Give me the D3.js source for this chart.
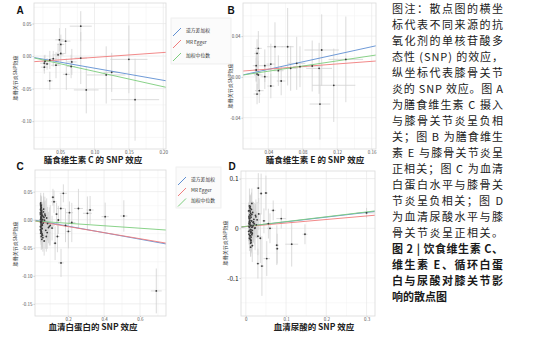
<!DOCTYPE html>
<html lang="zh">
<head>
<meta charset="utf-8">
<script src="https://cdn.jsdelivr.net/npm/d3@7"></script>
<style>
  body { margin: 0; background: #fff; }
  svg { display: block; font-family: "Noto Sans CJK SC", "Noto Sans", sans-serif; }
  .domain { display: none; }
  .tick line { stroke: #c8c8c8; }
  .tick text { fill: #555; }
</style>
</head>
<body>
<script>
// ---- data ----
const methods = ["逆方差加权", "MR Egger", "加权中位数"];
const methodColors = ["#5f8fd2", "#f07c7c", "#7ccd7c"];

// panel A: dietary vitamin C
const aX  = [0.080,0.049,0.051,0.058,0.047,0.051,0.080,0.067,0.066,0.059,0.044,0.035,0.028,0.027,0.031,0.027,0.035,0.088,0.117,0.150,0.159,0.125,0.040];
const aY  = [0.046,0.025,0.018,0.023,0.002,0.004,-0.003,-0.009,-0.016,-0.028,-0.014,-0.006,-0.008,-0.011,-0.012,-0.017,-0.038,-0.052,-0.029,-0.005,-0.067,-0.025,-0.004];
const aXe = [0.016,0.006,0.005,0.007,0.008,0.006,0.009,0.007,0.006,0.005,0.007,0.006,0.005,0.006,0.004,0.005,0.004,0.018,0.028,0.027,0.035,0.012,0.005];
const aYe = [0.023,0.018,0.015,0.020,0.017,0.014,0.040,0.020,0.018,0.024,0.020,0.014,0.010,0.012,0.009,0.010,0.014,0.036,0.044,0.052,0.063,0.030,0.012];
const aSlope = [-0.186, 0.075, -0.235];
const aIntercept = [0, -0.0095, 0];

// panel B: dietary vitamin E
const bX  = [0.0285,0.027,0.026,0.026,0.027,0.0285,0.0296,0.027,0.036,0.043,0.043,0.0478,0.0517,0.0625,0.066,0.073,0.0768,0.091,0.102,0.099,0.100,0.116,0.130,0.036,0.055];
const bY  = [0.028,0.023,0.011,0.0068,0.0028,0.0019,-0.0135,-0.0168,0.011,0.0126,-0.0089,0.0296,0.0061,0.0296,0.0084,0.0133,0.010,0.0107,0.0264,0.0084,-0.0266,-0.0082,0.0172,0.0002,-0.004];
const bXe = [0.004,0.003,0.004,0.003,0.004,0.005,0.005,0.004,0.006,0.005,0.004,0.009,0.006,0.007,0.008,0.010,0.008,0.012,0.020,0.015,0.012,0.025,0.020,0.004,0.005];
const bYe = [0.017,0.014,0.015,0.012,0.018,0.014,0.012,0.010,0.016,0.020,0.012,0.024,0.015,0.038,0.022,0.026,0.020,0.025,0.035,0.025,0.035,0.036,0.042,0.012,0.014];
const bSlope = [0.185, 0.0636, 0.127];
const bIntercept = [0, 0.0051, 0.0005];

// panel C: serum albumin
const cX = [0.045,0.047,0.048,0.050,0.046,0.052,0.049,0.051,0.053,0.047,
  0.055,0.048,0.050,0.046,0.058,0.052,0.049,0.054,0.047,0.051,
  0.060,0.045,0.050,0.056,0.048,0.053,0.062,0.049,0.046,0.051,
  0.065,0.052,0.047,0.057,0.050,0.068,0.048,0.055,0.072,0.049,
  0.046,0.059,0.053,0.075,0.050,0.047,0.063,0.051,0.080,0.048,
  0.054,0.085,0.049,0.066,0.052,0.090,0.047,0.070,0.050,0.095,
  0.056,0.048,0.078,0.053,0.046,0.100,0.061,0.050,0.083,0.049,
  0.173,0.121,0.159,0.207,0.257,0.307,0.322,0.406,0.510,0.160,
  0.691,0.201,0.145,0.127,0.110,0.135,0.185,0.220,0.115,0.140];
const cY = [0.012,-0.005,0.020,0.003,-0.012,0.008,-0.020,0.015,-0.002,0.025,
  -0.008,0.005,-0.030,0.018,0.000,-0.015,0.010,-0.025,0.030,-0.004,
  0.006,-0.018,0.022,-0.010,0.002,-0.035,0.014,-0.006,0.009,-0.022,
  0.004,0.017,-0.013,-0.028,0.011,-0.001,0.024,-0.016,0.007,-0.009,
  0.028,-0.032,0.001,-0.019,0.013,-0.024,0.019,-0.011,0.003,0.016,
  -0.027,-0.007,0.021,-0.038,0.005,-0.014,-0.003,0.010,-0.021,-0.012,
  0.008,-0.017,-0.030,0.012,0.000,-0.010,-0.006,0.026,-0.023,0.004,
  0.047,0.032,0.020,0.0125,0.020,0.0114,0.0173,0.0054,0.0066,-0.077,
  -0.127,-0.021,-0.0005,-0.042,-0.015,0.010,-0.010,-0.005,0.040,-0.030];
const cXe = [0.006,0.005,0.007,0.006,0.005,0.008,0.006,0.007,0.009,0.005,
  0.010,0.006,0.007,0.005,0.011,0.008,0.006,0.009,0.005,0.007,
  0.012,0.005,0.007,0.010,0.006,0.008,0.013,0.006,0.005,0.007,
  0.014,0.008,0.006,0.011,0.007,0.015,0.006,0.010,0.016,0.006,
  0.005,0.012,0.008,0.017,0.007,0.005,0.013,0.007,0.018,0.006,
  0.009,0.020,0.006,0.014,0.008,0.022,0.005,0.015,0.007,0.024,
  0.010,0.006,0.017,0.008,0.005,0.025,0.012,0.007,0.019,0.006,
  0.020,0.015,0.020,0.020,0.025,0.025,0.020,0.020,0.020,0.015,
  0.030,0.015,0.012,0.010,0.012,0.010,0.015,0.020,0.010,0.012];
const cYe = [0.018,0.012,0.022,0.015,0.020,0.010,0.025,0.016,0.013,0.019,
  0.021,0.014,0.024,0.017,0.011,0.020,0.015,0.023,0.018,0.012,
  0.026,0.016,0.019,0.022,0.013,0.017,0.028,0.014,0.012,0.020,
  0.030,0.018,0.015,0.024,0.016,0.032,0.013,0.021,0.027,0.015,
  0.012,0.025,0.019,0.033,0.014,0.016,0.029,0.017,0.035,0.013,
  0.022,0.030,0.015,0.026,0.018,0.028,0.012,0.031,0.016,0.034,
  0.020,0.014,0.027,0.019,0.013,0.036,0.023,0.015,0.029,0.017,
  0.016,0.020,0.025,0.020,0.035,0.030,0.025,0.025,0.028,0.025,
  0.040,0.030,0.025,0.030,0.022,0.020,0.030,0.035,0.015,0.028];
const cSlope = [-0.058, -0.054, -0.022];
const cIntercept = [0, -0.0015, -0.002];

// panel D: serum uric acid
const dX = [0.008,0.010,0.012,0.009,0.014,0.011,0.007,0.013,0.016,0.010,
  0.012,0.018,0.009,0.011,0.015,0.008,0.013,0.020,0.010,0.012,
  0.017,0.009,0.014,0.011,0.022,0.008,0.013,0.010,0.016,0.012,
  0.024,0.009,0.011,0.015,0.007,0.019,0.012,0.010,0.026,0.013,
  0.009,0.014,0.011,0.021,0.008,0.012,0.017,0.010,0.028,0.013,
  0.009,0.015,0.011,0.023,0.012,0.008,0.018,0.010,0.030,0.014,
  0.011,0.016,0.009,0.025,0.013,0.010,0.019,0.012,0.032,0.015,
  0.031,0.050,0.038,0.068,0.088,0.056,0.147,0.114,0.077,0.078,
  0.052,0.040,0.030,0.300,0.045,0.060,0.036];
const dY = [0.010,-0.005,0.025,0.002,0.015,-0.015,0.035,0.006,-0.010,0.020,
  -0.025,0.012,0.045,-0.002,0.028,0.004,-0.018,0.018,0.008,-0.030,
  0.032,0.014,-0.008,0.040,0.000,-0.012,0.022,0.016,-0.035,0.005,
  0.026,-0.020,0.011,0.050,-0.006,0.013,0.030,-0.015,0.007,-0.003,
  0.019,0.038,-0.022,0.009,0.024,-0.009,0.003,0.042,0.017,-0.028,
  0.012,-0.013,0.033,0.001,-0.038,0.021,0.006,0.027,-0.016,0.015,
  0.044,-0.004,0.008,0.023,-0.024,0.036,0.011,-0.007,0.029,0.002,
  0.081,0.071,0.070,0.036,0.0195,0.0094,-0.012,-0.032,-0.034,-0.041,
  -0.061,-0.076,-0.071,0.031,0.015,0.000,-0.020];
const dXe = [0.003,0.003,0.004,0.002,0.004,0.003,0.002,0.003,0.005,0.003,
  0.003,0.005,0.002,0.003,0.004,0.002,0.004,0.006,0.003,0.003,
  0.005,0.002,0.004,0.003,0.006,0.002,0.003,0.003,0.005,0.003,
  0.007,0.002,0.003,0.004,0.002,0.005,0.003,0.003,0.007,0.004,
  0.002,0.004,0.003,0.006,0.002,0.003,0.005,0.003,0.008,0.004,
  0.002,0.004,0.003,0.006,0.003,0.002,0.005,0.003,0.008,0.004,
  0.003,0.004,0.002,0.007,0.003,0.003,0.005,0.003,0.008,0.004,
  0.004,0.005,0.004,0.006,0.012,0.006,0.006,0.016,0.005,0.004,
  0.008,0.005,0.004,0.025,0.005,0.007,0.004];
const dYe = [0.020,0.015,0.025,0.018,0.022,0.030,0.017,0.021,0.028,0.016,
  0.026,0.019,0.035,0.014,0.024,0.018,0.032,0.020,0.016,0.027,
  0.022,0.019,0.038,0.025,0.017,0.021,0.029,0.015,0.033,0.018,
  0.023,0.026,0.016,0.030,0.020,0.040,0.024,0.017,0.027,0.019,
  0.021,0.034,0.018,0.042,0.016,0.022,0.031,0.025,0.036,0.020,
  0.017,0.028,0.023,0.045,0.019,0.026,0.030,0.016,0.038,0.021,
  0.024,0.018,0.029,0.035,0.022,0.019,0.040,0.017,0.032,0.023,
  0.030,0.035,0.040,0.020,0.020,0.030,0.020,0.045,0.040,0.030,
  0.035,0.060,0.030,0.010,0.025,0.030,0.050];
const dSlope = [0.095, 0.071, 0.097];
const dIntercept = [0.0035, 0.0035, 0.0038];

const yTitle = "膝骨关节炎SNP效应";

const captionLines = [
  "图注：散点图的横坐", "标代表不同来源的抗", "氧化剂的单核苷酸多", "态性 (SNP) 的效应，",
  "纵坐标代表膝骨关节", "炎的 SNP 效应。图 A", "为膳食维生素 C 摄入", "与膝骨关节炎呈负相",
  "关；图 B 为膳食维生", "素 E 与膝骨关节炎呈", "正相关；图 C 为血清", "白蛋白水平与膝骨关",
  "节炎呈负相关；图 D", "为血清尿酸水平与膝", "骨关节炎呈正相关。",
  "图 2 | 饮食维生素 C、", "维生素 E、循环白蛋", "白与尿酸对膝关节影", "响的散点图"
];
const captionBoldFrom = 15;

// ---- drawing ----
const svg = d3.select('body').append('svg')
  .attr('width', 542)
  .attr('height', 343);

function fmt(f) {
  const base = d3.format(f);
  return v => base(v).replace('\u2212', '-');
}

function panel(p) {
  const x = d3.scaleLinear().domain(p.xDomain).range([p.left, p.right]);
  const y = d3.scaleLinear().domain(p.yDomain).range([p.bottom, p.top]);
  const g = svg.append('g');

  g.append('clipPath').attr('id', 'clip' + p.id)
    .append('rect')
    .attr('x', p.left).attr('y', p.top)
    .attr('width', p.right - p.left).attr('height', p.bottom - p.top);

  // grid
  g.selectAll('.vmin').data(p.xMinor).join('line')
    .attr('x1', d => x(d)).attr('x2', d => x(d))
    .attr('y1', p.top).attr('y2', p.bottom)
    .attr('stroke', '#f3f3f3').attr('stroke-width', 0.6);
  g.selectAll('.hmin').data(p.yMinor).join('line')
    .attr('y1', d => y(d)).attr('y2', d => y(d))
    .attr('x1', p.left).attr('x2', p.right)
    .attr('stroke', '#f3f3f3').attr('stroke-width', 0.6);
  g.selectAll('.vmaj').data(p.xTicks).join('line')
    .attr('x1', d => x(d)).attr('x2', d => x(d))
    .attr('y1', p.top).attr('y2', p.bottom)
    .attr('stroke', '#e8e8e8').attr('stroke-width', 0.7);
  g.selectAll('.hmaj').data(p.yTicks).join('line')
    .attr('y1', d => y(d)).attr('y2', d => y(d))
    .attr('x1', p.left).attr('x2', p.right)
    .attr('stroke', '#e8e8e8').attr('stroke-width', 0.7);

  // axes
  const xAxis = d3.axisBottom(x).tickValues(p.xTicks).tickFormat(fmt(p.xFmt))
    .tickSize(1).tickPadding(0.5);
  const yAxis = d3.axisLeft(y).tickValues(p.yTicks).tickFormat(fmt(p.yFmt))
    .tickSize(1.5).tickPadding(1);
  g.append('g').attr('transform', `translate(0,${p.bottom})`).call(xAxis)
    .attr('font-family', null)
    .selectAll('text').attr('font-size', p.xFont);
  g.append('g').attr('transform', `translate(${p.left},0)`).call(yAxis)
    .attr('font-family', null)
    .selectAll('text').attr('font-size', p.yFont).style('fill', p.yFill || '#555');

  // points with error bars
  const pts = p.xs.map((v, i) => ({ x: v, y: p.ys[i], xe: p.xe[i], ye: p.ye[i] }));
  const area = g.append('g').attr('clip-path', `url(#clip${p.id})`);
  area.selectAll('.ev').data(pts).join('line')
    .attr('x1', d => x(d.x)).attr('x2', d => x(d.x))
    .attr('y1', d => y(d.y - d.ye)).attr('y2', d => y(d.y + d.ye))
    .attr('stroke', '#d2d2d2').attr('stroke-width', 0.8);
  area.selectAll('.eh').data(pts).join('line')
    .attr('y1', d => y(d.y)).attr('y2', d => y(d.y))
    .attr('x1', d => x(d.x - d.xe)).attr('x2', d => x(d.x + d.xe))
    .attr('stroke', '#d2d2d2').attr('stroke-width', 0.8);

  // fitted lines
  area.selectAll('.fit').data(methods).join('line')
    .attr('x1', x(p.xDomain[0])).attr('x2', x(p.xDomain[1]))
    .attr('y1', (d, i) => y(p.intercept[i] + p.slope[i] * p.xDomain[0]))
    .attr('y2', (d, i) => y(p.intercept[i] + p.slope[i] * p.xDomain[1]))
    .attr('stroke', (d, i) => methodColors[i]).attr('stroke-width', 0.9);

  area.selectAll('.pt').data(pts).join('circle')
    .attr('cx', d => x(d.x)).attr('cy', d => y(d.y)).attr('r', 0.9)
    .attr('fill', '#3a3a3a');

  // frame
  g.append('rect')
    .attr('x', p.left).attr('y', p.top)
    .attr('width', p.right - p.left).attr('height', p.bottom - p.top)
    .attr('fill', 'none').attr('stroke', '#d9d9d9').attr('stroke-width', 0.8);

  // labels
  g.append('text').attr('x', p.tagX).attr('y', p.tagY).attr('dy', '0.35em')
    .attr('text-anchor', 'middle').attr('font-size', 10).attr('font-weight', 700)
    .attr('font-family', 'Liberation Sans, Arial, sans-serif')
    .attr('fill', '#111').text(p.tag);
  g.append('text').attr('x', p.xTitleX).attr('y', p.xTitleY).attr('dy', '0.35em')
    .attr('text-anchor', 'middle').attr('font-size', 8.5).attr('font-weight', 700)
    .attr('fill', '#222').text(p.xTitle);
  g.append('text')
    .attr('transform', `translate(${p.yTitleX},${p.yTitleY}) rotate(-90)`)
    .attr('dy', '0.35em').attr('text-anchor', 'middle')
    .attr('font-size', 5).attr('fill', '#333').text(yTitle);
}

function legend(bx, by, bw, bh, rows, fontSize) {
  const g = svg.append('g');
  g.append('rect').attr('x', bx).attr('y', by).attr('width', bw).attr('height', bh)
    .attr('fill', '#fbfbfb').attr('stroke', '#ececec').attr('stroke-width', 0.8);
  const items = g.selectAll('.item').data(methods).join('g')
    .attr('transform', (d, i) => `translate(${bx + 2},${rows[i]})`);
  items.append('line')
    .attr('x1', 0).attr('y1', 6).attr('x2', 8).attr('y2', -2)
    .attr('stroke', (d, i) => methodColors[i]).attr('stroke-width', 1);
  items.append('text').attr('x', 13).attr('y', 0).attr('dy', '0.35em')
    .attr('font-size', fontSize).attr('fill', '#333').text(d => d);
}

panel({
  id: 'A', tag: 'A', tagX: 20, tagY: 10,
  left: 34, right: 166, top: 3, bottom: 149,
  xDomain: [0.012, 0.204], yDomain: [-0.1428, 0.0816],
  xTicks: [0.05, 0.10, 0.15, 0.20], xMinor: [0.025, 0.075, 0.125, 0.175],
  yTicks: [-0.10, -0.05, 0, 0.05], yMinor: [-0.125, -0.075, -0.025, 0.025, 0.075],
  xFmt: '.2f', yFmt: '.2f', xFont: 4.5, yFont: 4.5,
  xs: aX, ys: aY, xe: aXe, ye: aYe, slope: aSlope, intercept: aIntercept,
  xTitle: '膳食维生素 C 的 SNP 效应', xTitleX: 93, xTitleY: 160.5,
  yTitleX: 15, yTitleY: 78
});

panel({
  id: 'B', tag: 'B', tagX: 231, tagY: 10,
  left: 243, right: 376, top: 3, bottom: 149,
  xDomain: [0.0107, 0.165], yDomain: [-0.0707, 0.0725],
  xTicks: [0.04, 0.08, 0.12, 0.16], xMinor: [0.02, 0.06, 0.10, 0.14],
  yTicks: [-0.04, 0, 0.04], yMinor: [-0.06, -0.02, 0.02, 0.06],
  xFmt: '.2f', yFmt: '.2f', xFont: 4.5, yFont: 4.5,
  xs: bX, ys: bY, xe: bXe, ye: bYe, slope: bSlope, intercept: bIntercept,
  xTitle: '膳食维生素 E 的 SNP 效应', xTitleX: 315, xTitleY: 160.5,
  yTitleX: 230, yTitleY: 86
});

panel({
  id: 'C', tag: 'C', tagX: 20, tagY: 166,
  left: 35, right: 166, top: 170, bottom: 316,
  xDomain: [0.015, 0.745], yDomain: [-0.1717, 0.0886],
  xTicks: [0.2, 0.4, 0.6], xMinor: [0.1, 0.3, 0.5, 0.7],
  yTicks: [-0.15, -0.10, -0.05, 0, 0.05], yMinor: [-0.125, -0.075, -0.025, 0.025, 0.075],
  xFmt: '.1f', yFmt: '.2f', xFont: 4.5, yFont: 4.5,
  xs: cX, ys: cY, xe: cXe, ye: cYe, slope: cSlope, intercept: cIntercept,
  xTitle: '血清白蛋白的 SNP 效应', xTitleX: 93, xTitleY: 327.5,
  yTitleX: 15, yTitleY: 244
});

panel({
  id: 'D', tag: 'D', tagX: 232, tagY: 166,
  left: 241, right: 375, top: 171, bottom: 316,
  xDomain: [-0.012, 0.321], yDomain: [-0.1765, 0.1153],
  xTicks: [0, 0.1, 0.2, 0.3], xMinor: [0.05, 0.15, 0.25],
  yTicks: [-0.1, 0, 0.1], yMinor: [-0.15, -0.05, 0.05],
  xFmt: '', yFmt: '', xFont: 4.5, yFont: 6.5, yFill: '#222',
  xs: dX, ys: dY, xe: dXe, ye: dYe, slope: dSlope, intercept: dIntercept,
  xTitle: '血清尿酸的 SNP 效应', xTitleX: 314, xTitleY: 327.5,
  yTitleX: 225, yTitleY: 243
});

legend(171, 18, 60, 46, [30, 42, 55], 4.8);
legend(176, 167, 45, 41, [179, 190, 200.5], 4.8);

// caption column
const cap = svg.append('g');
cap.selectAll('text').data(captionLines).join('text')
  .attr('x', 392)
  .attr('y', (d, i) => 9.5 + 16 * i)
  .attr('dy', '0.35em')
  .attr('font-size', 11)
  .attr('fill', '#1a1a1a')
  .attr('font-weight', (d, i) => i >= captionBoldFrom ? 700 : 400)
  .attr('textLength', (d, i) => i === captionLines.length - 1 ? null : 111)
  .attr('lengthAdjust', 'spacing')
  .text(d => d);
</script>
</body>
</html>
